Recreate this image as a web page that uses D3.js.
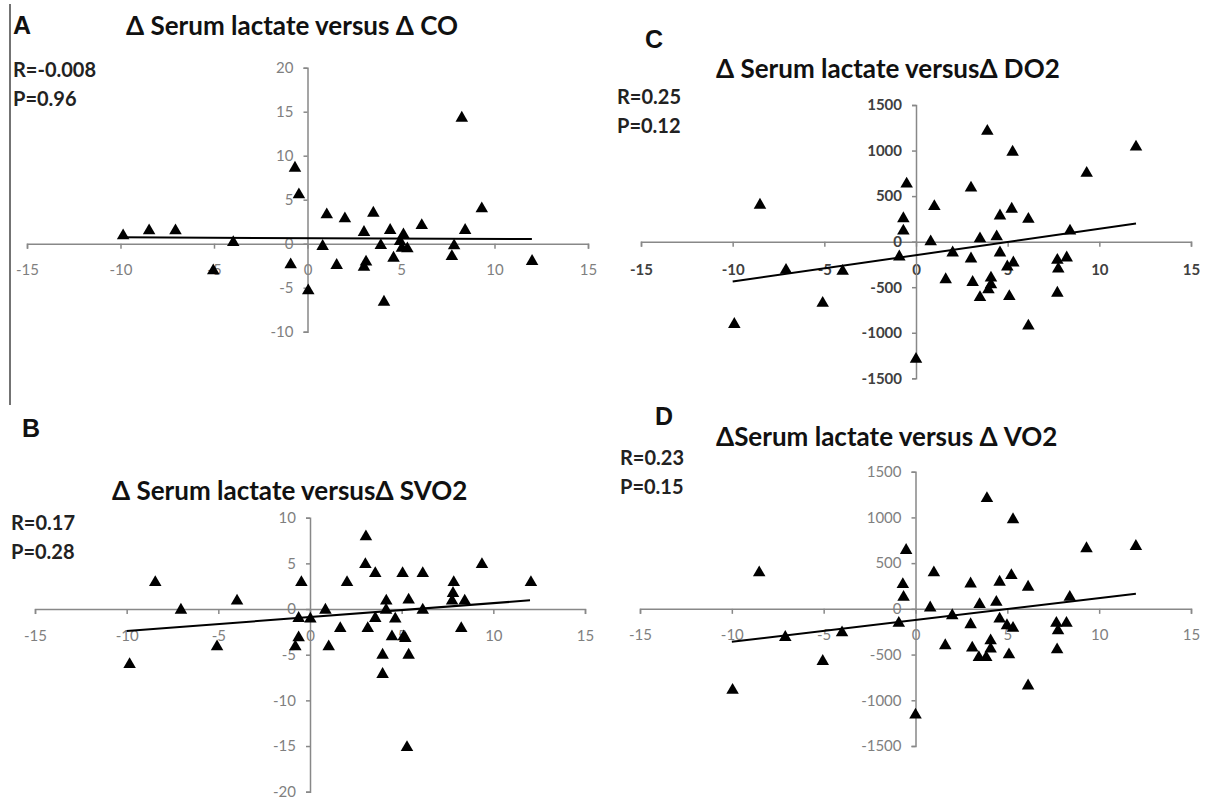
<!DOCTYPE html>
<html>
<head>
<meta charset="utf-8">
<script src="https://cdn.jsdelivr.net/npm/d3@7"></script>
<style>
  body { margin: 0; background: #fff; }
  svg { display: block; }
</style>
</head>
<body>
<svg id="fig" width="1209" height="799"></svg>
<script>
// 横轴刻度（四个图一样）
var xTicks = [-15, -10, -5, 0, 5, 10, 15];
var aTicks = [-10, -5, 0, 5, 10, 15, 20];
var bTicks = [-20, -15, -10, -5, 0, 5, 10];
var cTicks = [-1500, -1000, -500, 0, 500, 1000, 1500];
var dTicks = [-1500, -1000, -500, 0, 500, 1000, 1500];

// A: Δ lactate vs Δ CO
var aLactate = [-9.86, -8.47, -7.06, -5.04, -3.97, -0.67, -0.46, -0.9, 0.04, 0.81, 1.03, 1.56, 2.0, 3.02, 3.13, 3.02, 3.52, 3.92, 4.09, 4.42, 4.6, 5.13, 4.95, 5.05, 5.34, 6.11, 7.84, 7.72, 8.25, 8.43, 9.32, 12.01];
var aCO = [0.91, 1.48, 1.48, -3.07, 0.15, 8.6, 5.57, -2.39, -5.34, -0.3, 3.3, -2.46, 2.84, 1.29, -2.08, -2.65, 3.48, -0.19, -6.63, 1.52, -1.63, 1.02, 0.25, -0.5, -0.57, 2.08, -0.23, -1.44, 14.28, 1.52, 3.98, -2.0];

// B: Δ lactate vs Δ SVO2
var bLactate = [-9.84, -8.44, -7.04, -5.07, -3.98, -0.62, -0.62, -0.8, -0.47, 0.02, 0.84, 1.02, 1.65, 2.02, 3.05, 3.02, 3.15, 3.56, 3.56, 3.96, 3.96, 4.16, 4.15, 4.47, 4.65, 5.05, 5.11, 5.2, 5.38, 5.38, 5.29, 6.15, 6.15, 7.84, 7.8, 7.75, 8.25, 8.44, 9.38, 12.05];
var bSVO2 = [-6.06, 2.92, -0.11, -4.12, 0.88, -1.02, -3.14, -4.12, 2.92, -1.09, -0.11, -4.12, -2.12, 2.92, 7.92, 4.89, -2.12, 3.9, -1.02, -5.04, -7.15, 0.88, -0.11, -3.03, -1.09, 3.9, -3.03, -3.2, -5.04, 0.99, -15.15, 3.9, -0.11, 2.92, 1.72, 0.88, -2.12, 0.88, 4.89, 2.92];

// C: Δ lactate vs Δ DO2
var cLactate = [-9.91, -8.51, -7.09, -5.09, -4.0, -0.91, -0.69, -0.69, -0.51, 0, 0.8, 1.0, 1.62, 2.0, 3.0, 3.0, 3.09, 3.49, 3.49, 3.89, 3.95, 4.09, 4.09, 4.4, 4.58, 4.58, 4.98, 5.22, 5.09, 5.27, 5.31, 6.13, 6.13, 7.71, 7.76, 7.71, 8.22, 8.4, 9.31, 12.0];
var cDO2 = [-907, 402, -313, -675, -324, -166, 254, 118, 634, -1290, 0, 387, -416, -122, 590, -188, -446, 33, -612, 1213, -527, -398, -472, 55, 284, -122, -276, 358, -601, 984, -232, 247, -925, -203, -299, -564, -177, 118, 752, 1039];

// D: Δ lactate vs Δ VO2
var dLactate = [-9.96, -8.51, -7.09, -5.05, -4.0, -0.91, -0.69, -0.65, -0.51, 0, 0.8, 1.0, 1.62, 2.0, 3.0, 3.0, 3.09, 3.49, 3.45, 3.89, 3.85, 4.09, 4.09, 4.4, 4.58, 4.58, 4.98, 5.22, 5.09, 5.31, 5.31, 6.13, 6.13, 7.67, 7.76, 7.71, 8.22, 8.4, 9.31, 12.0];
var dVO2 = [-889, 395, -311, -574, -260, -157, 267, 128, 640, -1160, 11, 395, -402, -73, 274, -172, -428, 48, -531, 1207, -531, -348, -439, 73, 293, -110, -183, 366, -501, 977, -212, 238, -842, -157, -238, -446, -157, 128, 659, 684];

// 趋势线两端（从图上读的）
var trendX = [-10, 12];
var aTrend = [0.72, 0.52];
var bTrend = [-2.4, 0.95];
var cTrend = [-438, 199];
var dTrend = [-360, 165];

var letters = ["A", "B", "C", "D"];
var titles = [
    "\u0394 Serum lactate versus \u0394 CO",
    "\u0394 Serum lactate versus\u0394 SVO2",
    "\u0394 Serum lactate versus\u0394 DO2",
    "\u0394Serum lactate versus \u0394 VO2"
];
var rTexts = ["R=-0.008", "R=0.17", "R=0.25", "R=0.23"];
var pTexts = ["P=0.96", "P=0.28", "P=0.12", "P=0.15"];

// 每个小图的位置（像素），跟数据分开放
var panels = [
    {xs: aLactate, ys: aCO, trend: aTrend, yTicks: aTicks, yDom: [-10, 20],
     xr: [27, 588], yr: [331.7, 67.7], letter: [13, 34], title: [126, 35], stat: [13, 77], boldTicks: false},
    {xs: bLactate, ys: bSVO2, trend: bTrend, yTicks: bTicks, yDom: [-20, 10],
     xr: [35, 585], yr: [791.7, 517.7], letter: [22, 437], title: [112, 500], stat: [11, 530], boldTicks: false},
    {xs: cLactate, ys: cDO2, trend: cTrend, yTicks: cTicks, yDom: [-1500, 1500],
     xr: [641, 1191], yr: [378.3, 105], letter: [645, 48], title: [716, 78], stat: [617, 104], boldTicks: true},
    {xs: dLactate, ys: dVO2, trend: dTrend, yTicks: dTicks, yDom: [-1500, 1500],
     xr: [640, 1191], yr: [746, 471.7], letter: [655, 425], title: [716, 446], stat: [620, 465], boldTicks: false}
];

var svg = d3.select("#fig");
var textFont = "Lato, 'Open Sans', sans-serif";

// A 图左边那条竖线
svg.append("line")
    .attr("x1", 10).attr("x2", 10)
    .attr("y1", 4).attr("y2", 405)
    .attr("stroke", "#444").attr("stroke-width", 1.5);

function drawPanel(p, i) {
    var x = d3.scaleLinear().domain([-15, 15]).range(p.xr);
    var y = d3.scaleLinear().domain(p.yDom).range(p.yr);
    var g = svg.append("g");

    var tickColor = p.boldTicks ? "#404040" : "#7f7f7f";

    // x轴放在 y=0 的位置
    var xAxis = g.append("g")
        .attr("transform", "translate(0," + y(0) + ")")
        .call(d3.axisBottom(x).tickValues(xTicks).tickSize(5).tickPadding(p.boldTicks ? 18 : 16).tickFormat(d3.format("d")));

    var yAxis = g.append("g")
        .attr("transform", "translate(" + x(0) + ",0)")
        .call(d3.axisLeft(y).tickValues(p.yTicks).tickSize(4).tickPadding(10).tickFormat(d3.format("d")));

    [xAxis, yAxis].forEach(function(ax) {
        ax.select(".domain").attr("stroke", "#888").attr("stroke-width", 1.5);
        ax.selectAll(".tick line").attr("stroke", "#888").attr("stroke-width", 1.5);
        ax.selectAll(".tick text")
            .attr("fill", tickColor)
            .attr("font-family", textFont)
            .attr("font-size", 15)
            .attr("font-weight", p.boldTicks ? "bold" : "normal");
    });
    // d3 的负号是 U+2212，换回普通的减号
    g.selectAll(".tick text").text(function(d) { return String(d); });

    // 趋势线
    var line = d3.line()
        .x(function(d) { return x(d[0]); })
        .y(function(d) { return y(d[1]); });
    g.append("path")
        .datum(d3.zip(trendX, p.trend))
        .attr("d", line)
        .attr("fill", "none")
        .attr("stroke", "#000")
        .attr("stroke-width", 2);

    // 三角形点
    var tri = d3.symbol().type(d3.symbolTriangle).size(68);
    g.selectAll(".pt")
        .data(d3.zip(p.xs, p.ys))
        .enter()
        .append("path")
        .attr("class", "pt")
        .attr("d", tri)
        .attr("transform", function(d) { return "translate(" + x(d[0]) + "," + y(d[1]) + ")"; })
        .attr("fill", "#000");

    // 文字
    g.append("text")
        .attr("x", p.letter[0]).attr("y", p.letter[1])
        .attr("font-family", "'Liberation Sans', Arial, sans-serif")
        .attr("font-weight", "bold")
        .attr("font-size", 25)
        .attr("fill", "#111")
        .text(letters[i]);

    g.append("text")
        .attr("x", p.title[0]).attr("y", p.title[1])
        .attr("font-family", textFont)
        .attr("font-weight", "bold")
        .attr("font-size", 26)
        .attr("fill", "#111")
        .text(titles[i]);

    g.append("text")
        .attr("x", p.stat[0]).attr("y", p.stat[1])
        .attr("font-family", textFont)
        .attr("font-weight", "bold")
        .attr("font-size", 20)
        .attr("fill", "#222")
        .text(rTexts[i]);

    g.append("text")
        .attr("x", p.stat[0]).attr("y", p.stat[1] + 29)
        .attr("font-family", textFont)
        .attr("font-weight", "bold")
        .attr("font-size", 20)
        .attr("fill", "#222")
        .text(pTexts[i]);
}

panels.forEach(drawPanel);
</script>
</body>
</html>
